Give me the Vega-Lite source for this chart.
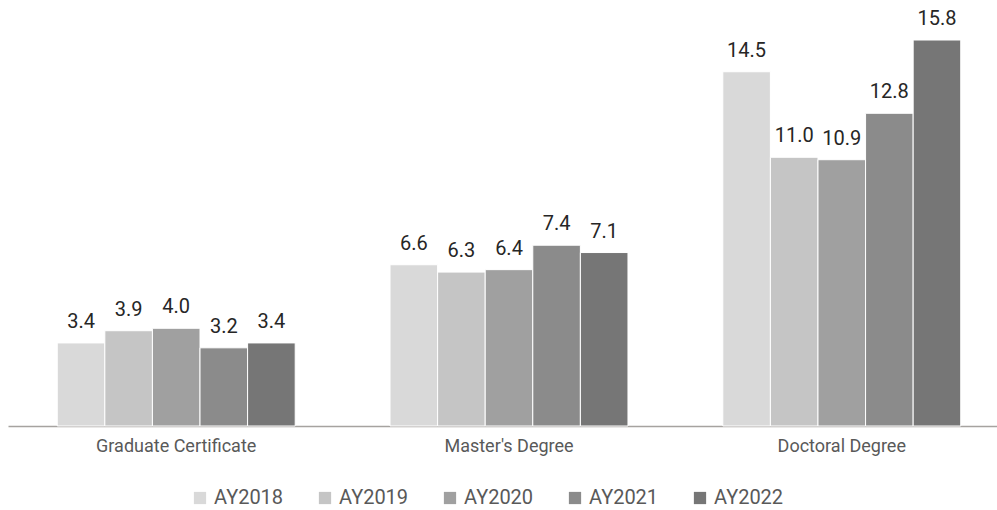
{
  "$schema": "https://vega.github.io/schema/vega-lite/v6.json",
  "autosize": "none",
  "width": 1002,
  "height": 386,
  "padding": {"left": 8, "top": 40, "right": 0, "bottom": 84},
  "background": "white",
  "config": {"font": "Roboto", "view": {"stroke": null}},
  "data": {"values": [
    {"cat": "Graduate Certificate", "year": "AY2018", "v": 3.4},
    {"cat": "Graduate Certificate", "year": "AY2019", "v": 3.9},
    {"cat": "Graduate Certificate", "year": "AY2020", "v": 4.0},
    {"cat": "Graduate Certificate", "year": "AY2021", "v": 3.2},
    {"cat": "Graduate Certificate", "year": "AY2022", "v": 3.4},
    {"cat": "Master's Degree", "year": "AY2018", "v": 6.6},
    {"cat": "Master's Degree", "year": "AY2019", "v": 6.3},
    {"cat": "Master's Degree", "year": "AY2020", "v": 6.4},
    {"cat": "Master's Degree", "year": "AY2021", "v": 7.4},
    {"cat": "Master's Degree", "year": "AY2022", "v": 7.1},
    {"cat": "Doctoral Degree", "year": "AY2018", "v": 14.5},
    {"cat": "Doctoral Degree", "year": "AY2019", "v": 11.0},
    {"cat": "Doctoral Degree", "year": "AY2020", "v": 10.9},
    {"cat": "Doctoral Degree", "year": "AY2021", "v": 12.8},
    {"cat": "Doctoral Degree", "year": "AY2022", "v": 15.8}
  ]},
  "encoding": {
    "x": {"field": "cat", "type": "nominal", "sort": null,
      "scale": {"paddingInner": 0.285, "paddingOuter": 0.148},
      "axis": {"title": null, "labelAngle": 0, "ticks": false, "grid": false,
        "domainColor": "#a6a3a0", "domainWidth": 1.5,
        "labelFont": "Roboto", "labelFontSize": 18, "labelColor": "#595959", "labelPadding": 11}},
    "xOffset": {"field": "year", "type": "nominal", "sort": null},
    "y": {"field": "v", "type": "quantitative",
      "scale": {"domain": [0, 15.8], "nice": false},
      "axis": null}
  },
  "layer": [
    {
      "mark": {"type": "bar", "stroke": "white", "strokeWidth": 1},
      "encoding": {
        "color": {"field": "year", "type": "nominal", "sort": null,
          "scale": {"domain": ["AY2018", "AY2019", "AY2020", "AY2021", "AY2022"],
            "range": ["#d9d9d9", "#c5c5c5", "#a0a0a0", "#8b8b8b", "#767676"]},
          "legend": {"title": null, "orient": "none", "direction": "horizontal",
            "legendX": 182, "legendY": 448,
            "symbolType": "square", "symbolSize": 150, "symbolStrokeWidth": 0,
            "labelFont": "Roboto", "labelFontSize": 20, "labelColor": "#595959",
            "labelOffset": 4, "columnPadding": 31}}
      }
    },
    {
      "mark": {"type": "text", "baseline": "alphabetic", "dy": -15, "fontSize": 20, "font": "Roboto", "color": "#262626"},
      "encoding": {
        "text": {"field": "v", "type": "quantitative", "format": ".1f"}
      }
    }
  ]
}
